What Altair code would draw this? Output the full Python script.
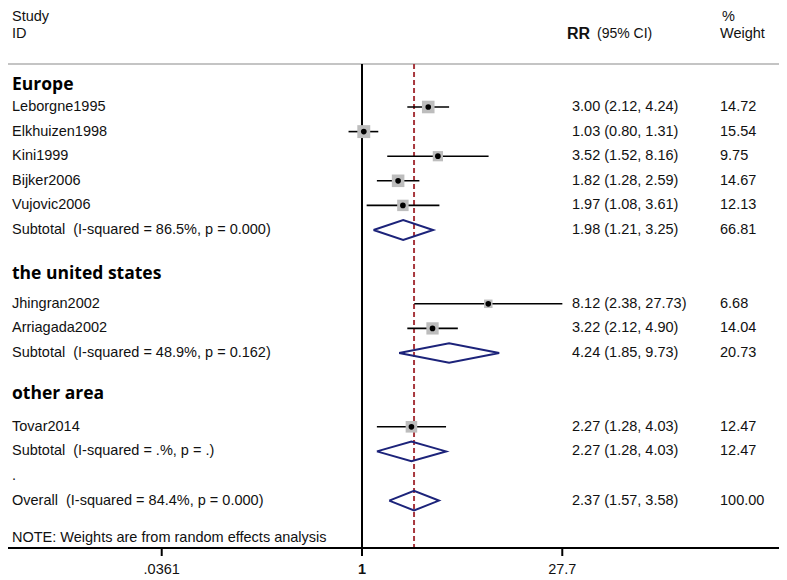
import math
import altair as alt
import pandas as pd

# ---------------- data ----------------
studies = ["Leborgne1995", "Elkhuizen1998", "Kini1999", "Bijker2006", "Vujovic2006",
           "Jhingran2002", "Arriagada2002", "Tovar2014"]
study_rr = [3.00, 1.03, 3.52, 1.82, 1.97, 8.12, 3.22, 2.27]
study_lo = [2.12, 0.80, 1.52, 1.28, 1.08, 2.38, 2.12, 1.28]
study_hi = [4.24, 1.31, 8.16, 2.59, 3.61, 27.73, 4.90, 4.03]
study_wt = [14.72, 15.54, 9.75, 14.67, 12.13, 6.68, 14.04, 12.47]
study_row = [1, 2, 3, 4, 5, 9, 10, 14]

NB = "\u00a0"
pooled = [f"Subtotal{NB} (I-squared = 86.5%, p = 0.000)",
          f"Subtotal{NB} (I-squared = 48.9%, p = 0.162)",
          f"Subtotal{NB} (I-squared = .%, p = .)",
          f"Overall{NB} (I-squared = 84.4%, p = 0.000)"]
pooled_rr = [1.98, 4.24, 2.27, 2.37]
pooled_lo = [1.21, 1.85, 1.28, 1.57]
pooled_hi = [3.25, 9.73, 4.03, 3.58]
pooled_wt = [66.81, 20.73, 12.47, 100.00]
pooled_row = [6, 11, 15, 17]

groups = ["Europe", "the united states", "other area"]
group_row = [0.1, 7.8, 12.65]

extra_text = [".", "NOTE: Weights are from random effects analysis"]
extra_row = [16, 18.5]

tick_values = [0.0361, 1, 27.7]
tick_labels = [".0361", "1", "27.7"]
tick_bold = [False, True, False]

# ---------------- layout ----------------
W, H = 771, 560
PAD_TOP = 10
PX_PER_LN = 60.3
X_ONE = 354
x_dom = [math.exp(-X_ONE / PX_PER_LN), math.exp((W - X_ONE) / PX_PER_LN)]
ROW_PX = 24.6
ROW0 = 64.4
y_dom = [-ROW0 / ROW_PX, (H - ROW0) / ROW_PX]
TOP_RULE = 46
AXIS_Y = 530
TICK_LEN = 8
TICK_LABEL_Y = 552

FONT = "Liberation Sans"
HFONT = "Open Sans"
TXT = "#111111"
FS = 14.5

xscale = alt.Scale(type="log", domain=x_dom, nice=False, zero=False)
yscale = alt.Scale(domain=y_dom, reverse=True, nice=False, zero=False)


def X(field):
    return alt.X(f"{field}:Q", scale=xscale, axis=None)


def Y(field="row"):
    return alt.Y(f"{field}:Q", scale=yscale, axis=None)


sdf = pd.DataFrame({"label": studies, "rr": study_rr, "lo": study_lo, "hi": study_hi,
                    "wt": study_wt, "row": study_row})
pdf = pd.DataFrame({"label": pooled, "rr": pooled_rr, "lo": pooled_lo, "hi": pooled_hi,
                    "wt": pooled_wt, "row": pooled_row})
alldf = pd.concat([sdf, pdf], ignore_index=True)
alldf["est"] = [f"{r:.2f} ({l:.2f}, {h:.2f})" for r, l, h in zip(alldf.rr, alldf.lo, alldf.hi)]
alldf["wtxt"] = [f"{w:.2f}" for w in alldf.wt]

# diamond outlines derived from pooled estimates
HALF = 0.4
drows = []
for i, (r, l, h, row) in enumerate(zip(pooled_rr, pooled_lo, pooled_hi, pooled_row)):
    pts = [(l, row), (r, row - HALF), (h, row), (r, row + HALF), (l, row)]
    for k, (xv, yv) in enumerate(pts):
        drows.append({"id": i, "k": k, "v": xv, "row": yv})
ddf = pd.DataFrame(drows)

gdf = pd.DataFrame({"label": groups, "row": group_row})
edf = pd.DataFrame({"label": extra_text, "row": extra_row})
tdf = pd.DataFrame({"v": tick_values, "label": tick_labels, "bold": tick_bold})

one_df = pd.DataFrame({"v": [1]})
overall_df = pd.DataFrame({"v": [pooled_rr[-1]]})

top_rule = alt.Chart(one_df).mark_rule(color="#c4c4c4", strokeWidth=2).encode(
    x=alt.value(0), x2=alt.value(W), y=alt.value(TOP_RULE))

axis_line = alt.Chart(one_df).mark_rule(color="black", strokeWidth=2).encode(
    x=alt.value(0), x2=alt.value(W), y=alt.value(AXIS_Y))

ticks = alt.Chart(tdf).mark_rule(color="black", strokeWidth=2).encode(
    x=X("v"), y=alt.value(AXIS_Y), y2=alt.value(AXIS_Y + TICK_LEN))

tick_text = alt.Chart(tdf).transform_filter("!datum.bold").mark_text(
    align="center", baseline="middle", font=FONT, fontSize=FS, color=TXT).encode(
    x=X("v"), y=alt.value(TICK_LABEL_Y), text="label:N")

tick_text_bold = alt.Chart(tdf).transform_filter("datum.bold").mark_text(
    align="center", baseline="middle", font=FONT, fontSize=FS, fontWeight="bold",
    color=TXT).encode(x=X("v"), y=alt.value(TICK_LABEL_Y), text="label:N")

null_line = alt.Chart(one_df).mark_rule(color="black", strokeWidth=2).encode(
    x=X("v"), y=alt.value(TOP_RULE), y2=alt.value(AXIS_Y))

overall_line = alt.Chart(overall_df).mark_rule(color="#a8383e", strokeWidth=2,
                                               strokeDash=[5, 3]).encode(
    x=X("v"), y=alt.value(TOP_RULE), y2=alt.value(AXIS_Y))

ci = alt.Chart(sdf).mark_rule(color="black", strokeWidth=1.6).encode(
    x=X("lo"), x2="hi:Q", y=Y())

boxes = alt.Chart(sdf).mark_square(color="#bdbdbd", opacity=1).encode(
    x=X("rr"), y=Y(),
    size=alt.Size("wt:Q", scale=alt.Scale(domain=[0, 20], range=[0, 215], zero=True), legend=None))

dots = alt.Chart(sdf).mark_circle(color="black", size=32, opacity=1).encode(
    x=X("rr"), y=Y())

diamonds = alt.Chart(ddf).mark_line(color="#1c237a", strokeWidth=2, strokeJoin="miter").encode(
    x=X("v"), y=Y(), order="k:Q", detail="id:N")

left_labels = alt.Chart(alldf).mark_text(align="left", baseline="middle", font=FONT,
                                         fontSize=FS, color=TXT).encode(
    x=alt.value(4), y=Y(), text="label:N")

extra_labels = alt.Chart(edf).mark_text(align="left", baseline="middle", font=FONT,
                                        fontSize=FS, color=TXT).encode(
    x=alt.value(4), y=Y(), text="label:N")

group_labels = alt.Chart(gdf).mark_text(align="left", baseline="middle", font=HFONT,
                                        fontSize=17.5, fontWeight="bold", color="black").encode(
    x=alt.value(4), y=Y(), text="label:N")

est_labels = alt.Chart(alldf).mark_text(align="left", baseline="middle", font=FONT,
                                        fontSize=FS, color=TXT).encode(
    x=alt.value(564), y=Y(), text="est:N")

wt_labels = alt.Chart(alldf).mark_text(align="left", baseline="middle", font=FONT,
                                       fontSize=FS, color=TXT).encode(
    x=alt.value(712), y=Y(), text="wtxt:N")


def header(text, x, y, size=FS, weight="normal"):
    return alt.Chart(one_df).mark_text(align="left", baseline="middle", font=FONT,
                                       fontSize=size, fontWeight=weight, color=TXT,
                                       text=text).encode(x=alt.value(x), y=alt.value(y))


headers = [
    header("Study", 4, -1),
    header("ID", 4, 16),
    header("%", 714, -1),
    header("Weight", 712, 16),
    header("RR", 559, 16, size=16, weight="bold"),
    header("(95% CI)", 589, 16, size=14),
]

chart = alt.layer(
    top_rule, overall_line, null_line, axis_line, ticks, tick_text, tick_text_bold,
    ci, boxes, dots, diamonds,
    left_labels, extra_labels, group_labels, est_labels, wt_labels, *headers
).properties(
    width=W, height=H,
    padding={"top": PAD_TOP, "left": 0, "right": 0, "bottom": 0},
    autosize=alt.AutoSizeParams(type="none")
).configure_view(stroke=None)

chart.save("out.html", embed_options={"renderer": "svg", "actions": False})
